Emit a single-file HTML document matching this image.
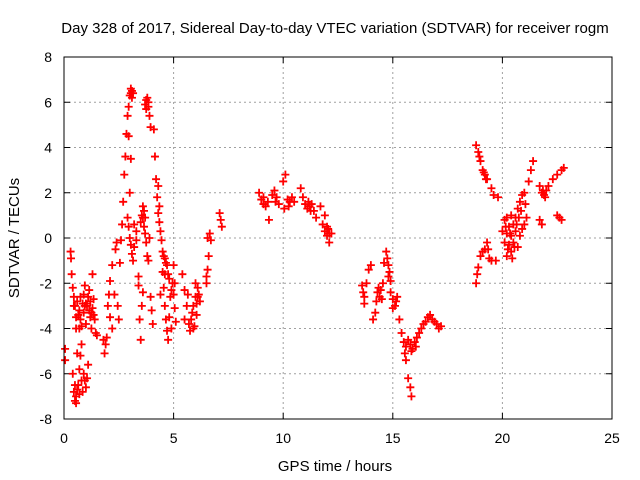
<!DOCTYPE html>
<html><head><meta charset="utf-8"><style>
body{margin:0;background:#fff;}
svg{display:block;font-family:"Liberation Sans",sans-serif;}
</style></head><body>
<svg id="chart" width="640" height="480">
<text x="335" y="33" font-size="15" text-anchor="middle">Day 328 of 2017, Sidereal Day-to-day VTEC variation (SDTVAR) for receiver rogm</text>
<text x="335" y="471" font-size="15" text-anchor="middle">GPS time / hours</text>
<text transform="translate(19,238) rotate(-90)" font-size="15" text-anchor="middle">SDTVAR / TECUs</text>
<g id="grid"></g>
<g id="ticks"></g>
<g id="marks"></g>
<rect x="64" y="57" width="548" height="362" fill="none" stroke="#000" stroke-width="1"/>
</svg>
<script>
const xTicks=[0,5,10,15,20,25];
const yTicks=[-8,-6,-4,-2,0,2,4,6,8];
const segA=[[0.05,-4.9],[0.05,-5.4],[0.3,-0.6],[0.32,-0.9],[0.35,-1.6],[0.4,-2.2],[0.45,-2.6],[0.5,-3.0],[0.55,-3.5],[0.4,-6.0],[0.45,-6.8],[0.5,-7.2],[0.55,-7.0],[0.6,-6.7],[0.65,-6.5],[0.7,-5.8],[0.75,-5.2],[0.8,-4.7],[0.7,-3.2],[0.75,-3.6],[0.85,-2.9],[0.9,-3.3],[0.95,-6.3],[1.0,-6.6],[1.05,-6.2],[1.1,-5.6],[1.0,-3.8],[1.05,-3.0],[1.1,-2.6],[1.15,-2.3],[1.2,-3.5],[1.25,-4.0],[1.3,-3.1],[1.35,-2.7],[1.3,-1.6],[1.4,-3.6],[1.45,-4.2],[1.5,-4.3],[0.6,-2.8],[0.65,-3.4],[0.8,-3.9],[0.9,-2.5],[1.2,-2.8],[1.15,-3.2],[0.45,-3.0],[0.55,-4.0],[0.6,-5.1],[0.85,-6.8],[0.95,-2.1],[0.5,-6.5],[0.55,-7.3],[0.7,-6.9],[0.8,-6.3],[0.9,-6.0],[0.95,-3.0],[1.0,-2.9],[1.25,-3.3],[1.35,-3.4],[0.7,-4.0],[0.75,-2.6]];
const segB=[[1.8,-4.5],[1.85,-5.1],[1.9,-4.7],[1.95,-4.4],[2.0,-3.0],[2.05,-2.5],[2.1,-1.9],[2.2,-1.2],[2.3,-2.5],[2.35,-0.5],[2.4,-0.2],[2.45,-3.0],[2.5,-3.6],[2.55,-1.1],[2.6,-0.1],[2.65,0.6],[2.7,1.6],[2.75,2.8],[2.8,3.6],[2.85,4.6],[2.9,5.4],[2.95,5.8],[3.0,6.3],[3.05,6.6],[3.1,6.5],[3.15,6.4],[2.9,0.9],[2.95,0.5],[3.0,0.0],[3.05,-0.3],[3.1,-0.7],[3.15,-1.0],[3.2,-0.4],[3.3,0.3],[3.4,-1.7],[3.45,-3.6],[3.5,-4.5],[3.4,-2.1],[3.5,0.7],[3.55,1.0],[3.6,1.4],[3.65,1.2],[3.7,0.9],[3.75,-0.2],[3.8,-0.8],[3.7,5.9],[3.75,6.1],[3.8,6.2],[3.85,5.8],[3.9,5.4],[3.95,4.9],[3.95,-2.6],[4.0,-3.2],[4.05,-3.8],[4.1,4.8],[4.15,3.6],[4.2,2.6],[4.25,1.8],[4.3,1.1],[4.35,0.7],[4.4,0.3],[4.45,-0.1],[4.5,-0.6],[4.5,-1.5],[4.55,-2.2],[4.6,-3.0],[4.65,-3.6],[4.7,-4.1],[4.75,-4.5],[4.6,-0.9],[4.7,-1.2],[4.8,-1.8],[4.9,-2.3],[5.0,-2.5],[5.05,-3.1],[5.1,-3.7],[5.0,-1.2],[5.05,-2.0],[3.0,2.0],[3.05,3.5],[2.95,4.5],[3.2,0.6],[3.3,-0.1],[3.55,-3.0],[3.6,-2.4],[3.9,0.0],[3.85,-1.0],[4.4,-2.5],[4.8,-3.5],[4.9,-4.0],[2.2,-4.0],[2.1,-3.5],[3.1,6.2],[3.05,6.4],[3.75,5.7],[3.85,6.0],[3.6,0.9],[3.65,0.5],[3.7,0.2],[4.3,2.3],[4.35,1.4],[4.55,-0.8],[4.6,-1.6],[4.65,-1.1],[4.75,-1.6],[4.85,-2.6],[4.95,-2.0]];
const segC=[[5.4,-1.6],[5.5,-2.3],[5.6,-3.0],[5.7,-3.8],[5.75,-4.1],[5.8,-3.6],[5.9,-3.0],[6.0,-2.6],[6.1,-2.2],[5.95,-3.9],[6.05,-3.4],[6.2,-2.8],[6.5,-2.0],[6.55,-1.4],[6.6,-0.8],[6.55,0.0],[6.65,0.2],[6.7,-0.1],[7.1,1.1],[7.15,0.8],[7.2,0.5],[5.5,-3.6],[5.65,-2.5],[6.15,-2.5],[6.0,-2.0],[5.85,-3.3],[5.9,-4.0],[6.05,-2.9],[6.1,-2.6],[6.5,-1.7]];
const segD=[[8.9,2.0],[9.0,1.7],[9.1,1.5],[9.2,1.4],[9.3,1.6],[9.35,0.8],[9.5,1.9],[9.6,2.1],[9.7,1.8],[9.8,1.5],[10.0,2.5],[10.1,2.8],[10.05,1.3],[10.2,1.7],[10.3,1.6],[10.4,1.8],[10.5,1.6],[10.8,2.2],[10.9,1.8],[11.0,1.5],[11.1,1.3],[11.2,1.4],[11.3,1.5],[11.4,1.2],[11.5,0.9],[11.7,1.4],[11.8,0.6],[11.9,0.3],[12.0,0.1],[12.1,-0.2],[12.2,0.2],[11.9,1.0],[12.0,0.5],[12.1,0.2],[9.1,1.8],[9.65,1.6],[10.25,1.4],[11.15,1.6],[11.25,1.2],[12.05,0.4]];
const segE=[[13.6,-2.1],[13.7,-2.6],[13.8,-2.0],[13.9,-1.4],[14.0,-1.2],[14.1,-3.6],[14.2,-3.3],[14.3,-2.4],[14.4,-2.6],[14.5,-2.7],[14.55,-2.0],[14.6,-1.1],[14.7,-0.6],[14.8,-1.2],[14.9,-2.4],[15.0,-3.1],[15.1,-3.0],[15.2,-2.6],[15.3,-3.6],[15.4,-4.2],[15.5,-4.6],[15.55,-5.1],[15.6,-4.8],[15.7,-6.2],[15.8,-6.6],[15.85,-7.0],[15.7,-4.5],[15.8,-4.7],[15.9,-4.9],[16.0,-4.6],[16.1,-4.4],[16.2,-4.2],[16.3,-4.0],[16.4,-3.8],[16.5,-3.7],[16.6,-3.5],[16.7,-3.4],[16.8,-3.6],[16.9,-3.7],[17.0,-3.8],[17.1,-4.0],[17.2,-3.9],[13.7,-2.9],[14.35,-2.2],[14.8,-1.7],[14.9,-1.9],[15.0,-2.7],[15.6,-5.4],[13.65,-2.4],[14.25,-2.8],[14.45,-2.3],[14.75,-0.9],[14.85,-1.5],[15.15,-2.8],[15.85,-5.0],[16.05,-4.8]];
const segF=[[18.8,-2.0],[18.85,-1.6],[18.9,-1.3],[19.0,-0.8],[19.1,-0.6],[19.2,-0.5],[19.3,-0.2],[19.35,-0.5],[19.4,-0.9],[19.5,-1.0],[19.7,-1.0],[18.8,4.1],[18.9,3.8],[19.0,3.4],[19.1,3.0],[19.2,2.8],[19.3,2.6],[19.5,2.2],[19.6,1.9],[19.8,1.8],[20.1,0.8],[20.2,0.2],[20.3,-0.3],[20.4,-0.6],[20.5,-0.2],[20.6,0.3],[20.2,0.9],[20.4,1.0],[20.6,0.9],[20.7,1.3],[20.8,1.6],[20.9,1.9],[21.0,2.0],[21.2,2.5],[21.3,3.0],[21.4,3.4],[20.8,0.1],[21.0,0.6],[21.1,0.9],[21.7,2.3],[21.8,2.0],[21.9,1.9],[22.0,2.1],[22.1,2.3],[22.3,2.6],[22.5,2.8],[22.7,3.0],[22.8,3.1],[21.7,0.8],[21.8,0.6],[22.5,1.0],[22.6,0.9],[22.7,0.8],[20.1,-0.2],[20.2,-0.8],[20.3,0.5],[20.5,0.6],[20.7,-0.4],[20.4,0.1],[20.9,0.4],[20.0,0.3],[18.95,3.6],[19.15,2.9],[19.25,2.6],[20.15,0.5],[20.25,-0.5],[20.35,0.2],[20.45,-0.9],[20.55,-0.4],[20.65,0.6],[20.75,0.9],[20.85,1.2],[21.05,1.5],[21.85,2.1],[21.95,1.8]];
const series=[segA,segB,segC,segD,segE,segF];
const X0=64,X1=612,Y0=419,Y1=57;
const xs=t=>X0+(t-0)/(25-0)*(X1-X0);
const ys=v=>Y0-(v+8)/16*(Y0-Y1);
const NS='http://www.w3.org/2000/svg';
const grid=document.getElementById('grid'),ticks=document.getElementById('ticks'),marks=document.getElementById('marks');
function mk(tag,attrs,parent){const e=document.createElementNS(NS,tag);for(const k in attrs)e.setAttribute(k,attrs[k]);parent.appendChild(e);return e;}
xTicks.forEach(t=>{const x=xs(t);
 if(t>0&&t<25){const g=mk('line',{x1:x,x2:x,y1:Y1,y2:Y0,stroke:'#a0a0a0','stroke-dasharray':'2,3'},grid);}
 mk('line',{x1:x,x2:x,y1:Y0,y2:Y0-6,stroke:'#000'},ticks);mk('line',{x1:x,x2:x,y1:Y1,y2:Y1+6,stroke:'#000'},ticks);
 const l=mk('text',{x:x,y:443,'font-size':14,'text-anchor':'middle'},ticks);l.textContent=t;
 });
yTicks.forEach(v=>{const y=ys(v);
 if(v>-8&&v<8){const g=mk('line',{x1:X0,x2:X1,y1:y,y2:y,stroke:'#a0a0a0','stroke-dasharray':'2,3'},grid);}
 mk('line',{x1:X0,x2:X0+6,y1:y,y2:y,stroke:'#000'},ticks);mk('line',{x1:X1,x2:X1-6,y1:y,y2:y,stroke:'#000'},ticks);
 const l=mk('text',{x:52,y:y+5,'font-size':14,'text-anchor':'end'},ticks);l.textContent=v;
 });
series.forEach(seg=>seg.forEach(p=>{const x=xs(p[0]),y=ys(p[1]);
 const m=mk('path',{d:`M${x-4},${y}H${x+4}M${x},${y-4}V${y+4}`,stroke:'#f00','stroke-width':1.8,fill:'none'},marks);
 
 }));
</script>
</body></html>
